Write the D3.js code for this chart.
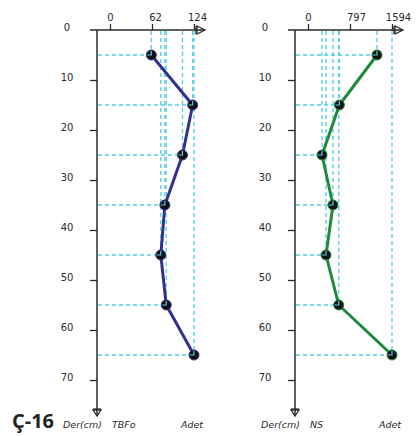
<!DOCTYPE html>
<html>
<head>
<meta charset="utf-8">
<script src="https://cdn.jsdelivr.net/npm/d3@7"></script>
<style>
  html, body { margin: 0; padding: 0; background: #fff; }
  svg { display: block; }
</style>
</head>
<body>
<svg id="chart" width="417" height="436"></svg>
<script>
// ---- data ----
const depths = [5, 15, 25, 35, 45, 55, 65];
const depthTicks = [0, 10, 20, 30, 40, 50, 60, 70];
const tbfoValues = [61, 122, 107, 81, 75, 83, 124];
const tbfoTicks = [0, 62, 124];
const nsValues = [1309, 596, 266, 474, 342, 583, 1594];
const nsTicks = [0, 797, 1594];
const panelNames = ["TBFo", "NS"];
const depthLabel = "Der(cm)";
const unitLabel = "Adet";
const stationLabel = "Ç-16";

const svg = d3.select("#chart");

const y = d3.scaleLinear().domain([0, 70]).range([30, 380]);

const panels = [
  { name: panelNames[0], values: tbfoValues, ticks: tbfoTicks, ox: 0, color: "#33318f" },
  { name: panelNames[1], values: nsValues, ticks: nsTicks, ox: 198, color: "#1f8a3c" }
];

const axisColor = "#2a2a2a";
const dashColor = "#4fcfe3";
const font = "DejaVu Sans, Verdana, sans-serif";

panels.forEach(p => {
  const axX = 97 + p.ox;           // vertical axis position
  const topY = y(0);
  const x = d3.scaleLinear().domain([0, d3.max(p.ticks)]).range([110 + p.ox, 194 + p.ox]);
  const g = svg.append("g");

  // dashed guide lines (from axes to each point)
  const pts = depths.map((d, i) => ({ d, v: p.values[i] }));
  g.selectAll("line.h").data(pts).join("line")
    .attr("x1", axX + 1).attr("x2", d => x(d.v))
    .attr("y1", d => y(d.d)).attr("y2", d => y(d.d))
    .attr("stroke", dashColor).attr("stroke-width", 1.3).attr("stroke-dasharray", "4,3");
  g.selectAll("line.v").data(pts).join("line")
    .attr("x1", d => x(d.v)).attr("x2", d => x(d.v))
    .attr("y1", topY + 1).attr("y2", d => y(d.d))
    .attr("stroke", dashColor).attr("stroke-width", 1.3).attr("stroke-dasharray", "4,3");

  // top axis
  const topAxis = d3.axisTop(x).tickValues(p.ticks).tickFormat(d3.format("d")).tickSize(6).tickPadding(3);
  const ta = g.append("g").attr("transform", `translate(0,${topY})`).call(topAxis);
  ta.select(".domain").remove();
  ta.selectAll(".tick line").attr("stroke", axisColor).attr("stroke-width", 1.3);
  ta.selectAll(".tick text").attr("font-family", font).attr("font-size", 10).attr("fill", "#2a2a2a")
    .attr("dx", (d, i) => i === 0 ? 0 : (p.ox ? 6 : 3));

  // left axis
  const leftAxis = d3.axisLeft(y).tickValues(depthTicks).tickSize(7).tickPadding(0);
  const la = g.append("g").attr("transform", `translate(${axX},0)`).call(leftAxis);
  la.select(".domain").remove();
  la.selectAll(".tick line").attr("stroke", axisColor).attr("stroke-width", 1.3)
    .attr("display", d => d === 0 ? "none" : null);
  la.selectAll(".tick text").attr("font-family", font).attr("font-size", 10).attr("fill", "#2a2a2a")
    .attr("text-anchor", "middle").attr("x", -30).attr("dy", "0.05em");

  // axis lines with arrows
  const rightEnd = 205 + p.ox;
  g.append("line").attr("x1", 90 + p.ox).attr("x2", rightEnd).attr("y1", topY).attr("y2", topY)
    .attr("stroke", axisColor).attr("stroke-width", 1.5);
  g.append("line").attr("x1", rightEnd - 9).attr("x2", rightEnd - 9).attr("y1", topY - 4).attr("y2", topY + 4)
    .attr("stroke", axisColor).attr("stroke-width", 1.3);
  g.append("path").attr("d", `M${rightEnd - 8},${topY - 4}L${rightEnd},${topY}L${rightEnd - 8},${topY + 4}Z`)
    .attr("fill", "none").attr("stroke", axisColor).attr("stroke-width", 1.3);

  const botEnd = 416;
  g.append("line").attr("x1", axX).attr("x2", axX).attr("y1", topY).attr("y2", botEnd)
    .attr("stroke", axisColor).attr("stroke-width", 1.5);
  g.append("line").attr("x1", axX - 4).attr("x2", axX + 4).attr("y1", botEnd - 7).attr("y2", botEnd - 7)
    .attr("stroke", axisColor).attr("stroke-width", 1.3);
  g.append("path").attr("d", `M${axX - 4},${botEnd - 6}L${axX},${botEnd}L${axX + 4},${botEnd - 6}Z`)
    .attr("fill", "none").attr("stroke", axisColor).attr("stroke-width", 1.3);

  // profile line
  const line = d3.line().x(d => x(d.v)).y(d => y(d.d));
  g.append("path").datum(pts).attr("d", line).attr("fill", "none")
    .attr("stroke", p.color).attr("stroke-width", 3).attr("stroke-linejoin", "round");

  // markers
  g.selectAll("circle").data(pts).join("circle")
    .attr("cx", d => x(d.v)).attr("cy", d => y(d.d)).attr("r", 5)
    .attr("fill", "#111").attr("stroke", p.color).attr("stroke-width", 1);
  g.selectAll("path.corner").data(pts).join("path").attr("class", "corner")
    .attr("d", d => `M${x(d.v) - 4},${y(d.d)}H${x(d.v)}V${y(d.d) - 4}`)
    .attr("fill", "none").attr("stroke", dashColor).attr("stroke-width", 1.2);

  // bottom labels
  const lab = (t, xx) => g.append("text").attr("x", xx).attr("y", 428).text(t)
    .attr("font-family", font).attr("font-size", 9.5).attr("font-style", "italic").attr("fill", "#2a2a2a");
  lab(depthLabel, 63 + p.ox);
  lab(p.name, 112 + p.ox);
  lab(unitLabel, 181 + p.ox);
});

svg.append("text").attr("x", 12).attr("y", 428).text(stationLabel)
  .attr("font-family", "Open Sans, Liberation Sans, sans-serif").attr("font-size", 20)
  .attr("font-weight", "bold").attr("fill", "#222");
</script>
</body>
</html>
